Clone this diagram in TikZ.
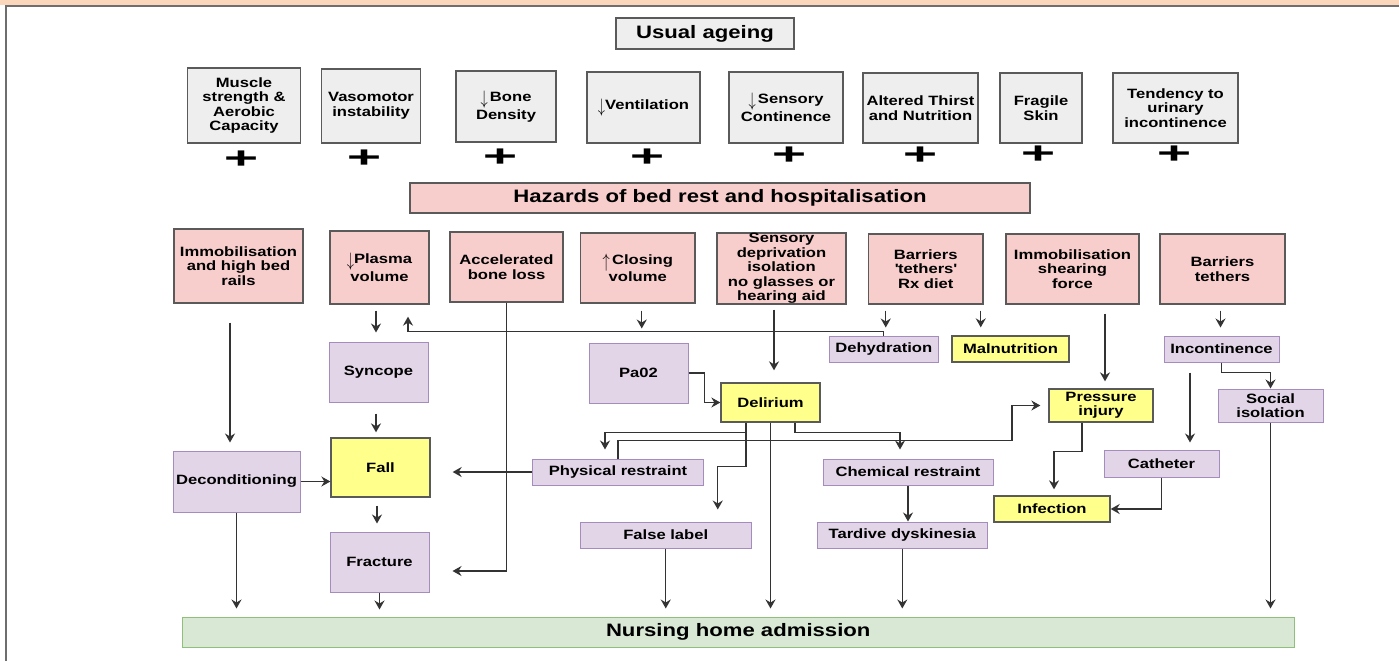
\documentclass[tikz,border=0pt]{standalone}
\usepackage{fontspec}
\setmainfont{Liberation Sans}[FakeStretch=1.23]
\usepackage{graphicx}
\usetikzlibrary{arrows.meta}
\definecolor{agefill}{HTML}{EEEEEE}
\definecolor{hazfill}{HTML}{F8CECC}
\definecolor{purpfill}{HTML}{E1D5E7}
\definecolor{purpedge}{HTML}{A68BBE}
\definecolor{yelfill}{HTML}{FFFF8C}
\definecolor{grnfill}{HTML}{D8E8D5}
\definecolor{grnedge}{HTML}{8FC07A}
\definecolor{edge}{HTML}{5A5A5A}
\definecolor{ink}{HTML}{333333}
\definecolor{peach}{HTML}{FAD7BA}
\definecolor{frame}{HTML}{6E6E6E}
\newcommand{\dnarr}{\raisebox{-3pt}{\scalebox{1}[1.35]{$\downarrow$}}}
\newcommand{\uparr}{\raisebox{-3pt}{\scalebox{1}[1.35]{$\uparrow$}}}

\begin{document}
\begin{tikzpicture}[x=1pt,y=-1pt,font=\bfseries\fontsize{13.5}{14.5}\selectfont,
   >={Stealth[length=9pt,width=10pt,inset=3pt]},
   box/.style={align=center,inner sep=2pt,line width=1.3pt},
   sz/.style 2 args={minimum width=#1,minimum height=#2},
   gy/.style={box,draw=edge,fill=agefill},
   pk/.style={box,draw=edge,fill=hazfill},
   pu/.style={box,draw=purpedge,line width=1pt,fill=purpfill},
   yl/.style={box,draw=edge,fill=yelfill},
   gn/.style={box,draw=grnedge,line width=1pt,fill=grnfill},
   ttl/.style={font=\bfseries\fontsize{18}{20}\selectfont},
   plus/.style={inner sep=0pt,font=\bfseries\fontsize{30}{30}\selectfont},
   arr/.style={->,draw=ink,line width=1.4pt}]
  \useasboundingbox[fill=white] (0,0) rectangle (1399,661);
  \fill[peach] (0,0) rectangle (1399,5);
  \draw[frame,line width=2.2pt] (6,661) -- (6,6) -- (1399,6);

  \node[gy,ttl,sz={178}{31}] (usual) at (705,33.5) {Usual ageing};
  \node[gy,sz={113}{75}] (muscle) at (244,105.5) {Muscle\\strength \&\\Aerobic\\Capacity};
  \node[gy,sz={99}{74}] (vaso) at (371,106) {Vasomotor\\instability};
  \node[gy,sz={100}{71}] (bone) at (506,106.5) {\dnarr\,Bone\\Density};
  \node[gy,sz={113}{71}] (vent) at (643.5,107.5) {\dnarr Ventilation};
  \node[gy,sz={114}{71}] (senscont) at (786,107.5) {\dnarr\,Sensory\\Continence};
  \node[gy,sz={115}{70}] (thirst) at (920.5,108) {Altered Thirst\\and Nutrition};
  \node[gy,sz={82}{70}] (skin) at (1041,108) {Fragile\\Skin};
  \node[gy,sz={125}{70}] (urin) at (1175.5,108) {Tendency to\\urinary\\incontinence};

  \node[plus] (plus1) at (241,160) {\scalebox{1.6}[1]{+}};
  \node[plus] (plus2) at (364,159) {\scalebox{1.6}[1]{+}};
  \node[plus] (plus3) at (500,158) {\scalebox{1.6}[1]{+}};
  \node[plus] (plus4) at (647,158) {\scalebox{1.6}[1]{+}};
  \node[plus] (plus5) at (789,156) {\scalebox{1.6}[1]{+}};
  \node[plus] (plus6) at (920,156) {\scalebox{1.6}[1]{+}};
  \node[plus] (plus7) at (1038,155) {\scalebox{1.6}[1]{+}};
  \node[plus] (plus8) at (1174,155) {\scalebox{1.6}[1]{+}};

  \node[pk,ttl,sz={620}{30}] (hazards) at (720,198) {Hazards of bed rest and hospitalisation};
  \node[pk,sz={129}{74}] (immob) at (238.5,266) {Immobilisation\\and high bed\\rails};
  \node[pk,sz={99}{73}] (plasma) at (379.5,267.5) {\dnarr Plasma\\volume};
  \node[pk,sz={113}{70}] (accel) at (506.5,267) {Accelerated\\bone loss};
  \node[pk,sz={114.5}{70}] (closing) at (637.75,268) {\uparr\,Closing\\volume};
  \node[pk,sz={129}{71},inner sep=0pt] (sensdep) at (781.5,268.5) {Sensory\\deprivation\\isolation\\no glasses or\\hearing aid};
  \node[pk,sz={114.5}{70}] (tethrx) at (925.75,269) {Barriers\\\textquotesingle tethers\textquotesingle\\Rx diet};
  \node[pk,sz={133}{70}] (shear) at (1072.5,269) {Immobilisation\\shearing\\force};
  \node[pk,sz={125}{70}] (tethers) at (1222.5,269) {Barriers\\tethers};

  \node[pu,sz={99}{60}] (syncope) at (378.5,372) {Syncope};
  \node[pu,sz={99}{60}] (pao) at (638.5,373) {Pa02};
  \node[pu,sz={108.5}{26}] (dehyd) at (883.75,349) {Dehydration};
  \node[yl,sz={117}{26}] (malnut) at (1010.5,349) {Malnutrition};
  \node[pu,sz={115}{26}] (incont) at (1221.5,349) {Incontinence};
  \node[yl,sz={99}{39}] (delirium) at (770.5,402.5) {Delirium};
  \node[yl,sz={104}{33}] (pressure) at (1101,405.5) {Pressure\\injury};
  \node[pu,sz={105}{33}] (social) at (1270.5,405.5) {Social\\isolation};
  \node[pu,sz={127}{61}] (decon) at (236.5,481.5) {Deconditioning};
  \node[yl,sz={99}{59}] (fall) at (380.5,467.5) {Fall};
  \node[pu,sz={171}{26}] (physr) at (618,472) {Physical restraint};
  \node[pu,sz={170}{26}] (chemr) at (908,472) {Chemical restraint};
  \node[pu,sz={115}{27}] (catheter) at (1161.5,463.5) {Catheter};
  \node[yl,sz={116}{26}] (infection) at (1052,509) {Infection};
  \node[pu,sz={170.5}{26}] (falsel) at (665.75,535) {False label};
  \node[pu,sz={170.5}{26}] (tardive) at (902.3,535) {Tardive dyskinesia};
  \node[pu,sz={99}{60}] (fracture) at (379.5,562) {Fracture};
  \node[gn,ttl,sz={1111.5}{30}] (nursing) at (738.25,632) {Nursing home admission};

  \draw[arr,shorten <=19,shorten >=8] ([xshift=-8.5]immob.south) -- ([xshift=-8.5]immob.south |- decon.north);
  \draw[arr,shorten <=6,shorten >=9] ([xshift=-3.5]plasma.south) -- ([xshift=-3.5]plasma.south |- syncope.north);
  \draw[arr,shorten >=12] (dehyd.north) -- ++(0,-4) -| ([xshift=28.5]plasma.south);
  \draw[arr,shorten <=7,shorten >=14] ([xshift=4]closing.south) -- ([xshift=4]closing.south |- pao.north);
  \draw[arr,shorten <=6,shorten >=8] ([xshift=2]dehyd.north |- tethrx.south) -- ([xshift=2]dehyd.north);
  \draw[arr,shorten <=6,shorten >=8] ([xshift=55]tethrx.south) -- ([xshift=55]tethrx.south |- malnut.north);
  \draw[arr,shorten <=6,shorten >=8] ([xshift=-2]tethers.south) -- ([xshift=-2]tethers.south |- incont.north);
  \draw[arr,shorten <=5,shorten >=12] ([xshift=3.5]delirium.north |- sensdep.south) -- ([xshift=3.5]delirium.north);
  \draw[arr] (pao.east) -- ++(16,0) |- (delirium.west);
  \draw[arr,shorten >=23] (accel.south) |- ([yshift=-9]fracture.east);
  \draw[arr,shorten >=22] (physr.west) -- (physr.west -| fall.east);
  \draw[arr] (decon.east) -- (decon.east -| fall.west);
  \draw[arr,shorten <=11,shorten >=5] ([xshift=-2.5]syncope.south) -- ([xshift=-2.5]syncope.south |- fall.north);
  \draw[arr,shorten <=8,shorten >=8] ([xshift=-3.5]fall.south) -- ([xshift=-3.5]fall.south |- fracture.north);
  \draw[arr,shorten >=7] (fracture.south) -- (fracture.south |- nursing.north);
  \draw[arr,shorten >=8] (decon.south) -- (decon.south |- nursing.north);
  \draw[arr,shorten >=9] ([xshift=-24.5]delirium.south) -- ++(0,10) -| ([xshift=-13]physr.north);
  \draw[arr,shorten >=12] ([xshift=-24.5]delirium.south) -- ++(0,44) -| ([xshift=52]falsel.north);
  \draw[arr,shorten >=8] (delirium.south) -- (delirium.south |- nursing.north);
  \draw[arr,shorten >=9] ([xshift=24.5]delirium.south) -- ++(0,10) -| ([xshift=-8]chemr.north);
  \draw[arr,shorten >=8] (physr.north) -- ++(0,-18) -| ([xshift=-36.5]pressure.west) -- (pressure.west);
  \draw[arr] (chemr.south) -- (chemr.south |- tardive.north);
  \draw[arr,shorten >=8] (falsel.south) -- (falsel.south |- nursing.north);
  \draw[arr,shorten >=8] (tardive.south) -- (tardive.south |- nursing.north);
  \draw[arr,shorten <=9,shorten >=7] ([xshift=4]pressure.north |- shear.south) -- ([xshift=4]pressure.north);
  \draw[arr,shorten >=6] ([xshift=-19]pressure.south) -- ++(0,29) -| ([xshift=2]infection.north);
  \draw[arr] (catheter.south) |- (infection.east);
  \draw[arr,shorten <=10,shorten >=7] ([xshift=28.5]catheter.north |- incont.south) -- ([xshift=28.5]catheter.north);
  \draw[arr] (incont.south) -- ++(0,10) -| (social.north);
  \draw[arr,shorten >=8] (social.south) -- (social.south |- nursing.north);
\end{tikzpicture}
\end{document}
